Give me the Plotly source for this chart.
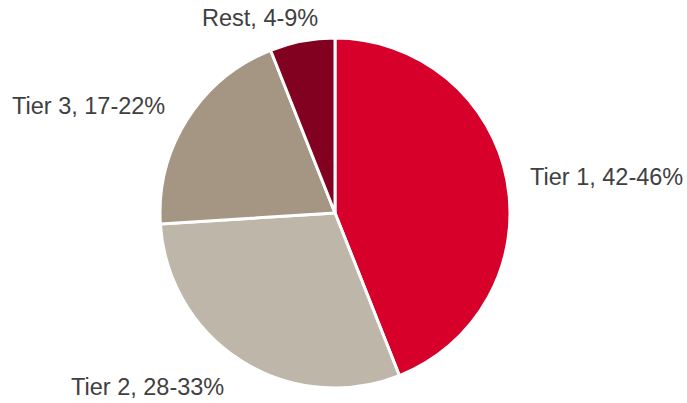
import plotly.graph_objects as go

# Segment shares (midpoints of the quoted ranges)
segments = ["Tier 1", "Tier 2", "Tier 3", "Rest"]
shares = [44, 30, 20, 6]
range_labels = ["42-46%", "28-33%", "17-22%", "4-9%"]
colors = ["#D7002B", "#BEB6A8", "#A59684", "#820020"]

# label placement (paper fractions), one per segment
label_x = [606 / 687, 147 / 687, 89 / 687, 260 / 687]
label_y = [1 - 177 / 403, 1 - 387 / 403, 1 - 106 / 403, 1 - 18 / 403]

fig = go.Figure()

fig.add_trace(go.Pie(
    labels=segments,
    values=shares,
    textinfo="none",
    marker=dict(colors=colors, line=dict(color="white", width=3)),
    sort=False,
    direction="clockwise",
    rotation=0,
    domain=dict(x=[0.2329, 0.7424], y=[0.0372, 0.9057]),
    hoverinfo="label+percent",
))

for seg, rng, x, y in zip(segments, range_labels, label_x, label_y):
    fig.add_annotation(
        text=f"{seg}, {rng}",
        x=x, y=y, xref="paper", yref="paper",
        xanchor="center", yanchor="middle",
        showarrow=False,
        font=dict(family="Liberation Sans", size=23.5, color="#404040"),
    )

fig.update_layout(
    width=687,
    height=403,
    margin=dict(l=0, r=0, t=0, b=0),
    showlegend=False,
    paper_bgcolor="white",
    plot_bgcolor="white",
)

# drop the browser's default body margin so the figure sits at the page corner
fig.write_html(
    "out.html",
    config={"displayModeBar": False},
    post_script="document.body.style.margin = '0';",
)
